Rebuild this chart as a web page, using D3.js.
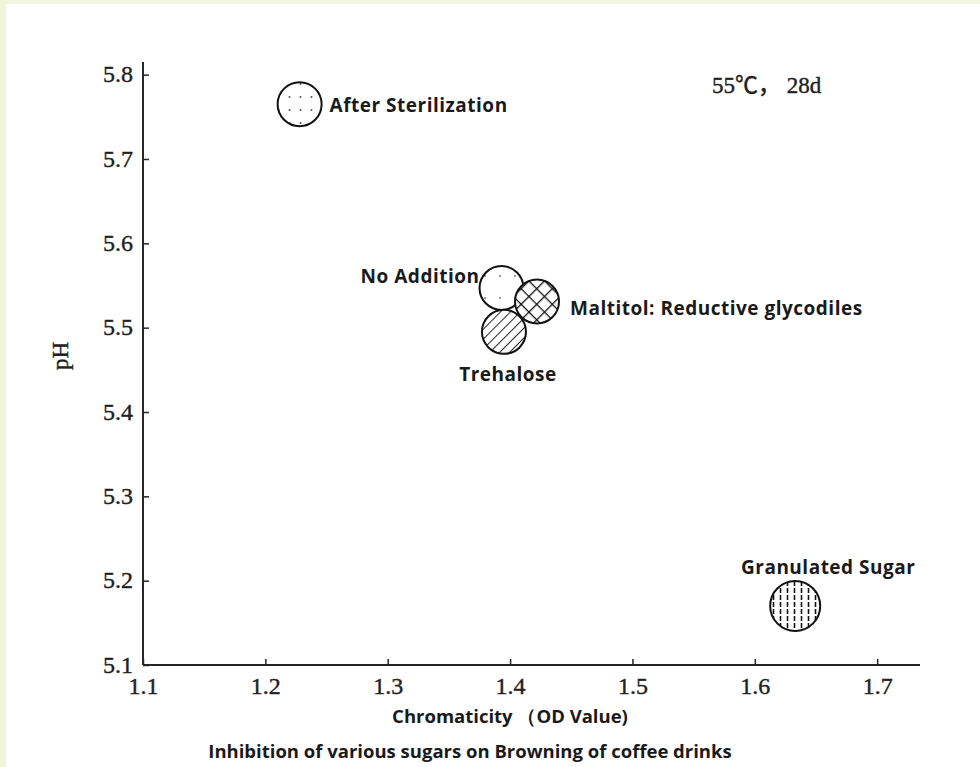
<!DOCTYPE html>
<html>
<head>
<meta charset="utf-8">
<script src="https://cdn.jsdelivr.net/npm/d3@7"></script>
<style>
  body { margin: 0; background: #f1f5da; }
  svg { display: block; }
</style>
</head>
<body>
<svg width="980" height="767"></svg>
<script>
// sample names and values
var samples = ["After Sterilization", "No Addition", "Maltitol: Reductive glycodiles", "Trehalose", "Granulated Sugar"];
var odValues = [1.228, 1.393, 1.422, 1.395, 1.633];
var phValues = [5.765, 5.547, 5.531, 5.495, 5.170];
var fills = ["dots", "fewdots", "cross", "diag", "vert"];
var xTicks = [1.1, 1.2, 1.3, 1.4, 1.5, 1.6, 1.7];
var yTicks = [5.1, 5.2, 5.3, 5.4, 5.5, 5.6, 5.7, 5.8];

// where each label sits next to its circle (dx, dy, anchor)
var labelPos = {
  "After Sterilization": [30, 8, "start"],
  "No Addition": [-22, -5, "end"],
  "Maltitol: Reductive glycodiles": [33, 13, "start"],
  "Trehalose": [4, 49, "middle"],
  "Granulated Sugar": [33, -32, "middle"]
};

var svg = d3.select("svg");
svg.append("rect").attr("x", 6).attr("y", 4).attr("width", 974).attr("height", 763).attr("fill", "#fff");

var defs = svg.append("defs");
// patterns for the circles
var p = defs.append("pattern").attr("id", "dots").attr("patternUnits", "userSpaceOnUse")
  .attr("width", 11).attr("height", 13).attr("x", 284).attr("y", 91);
p.append("circle").attr("cx", 5.5).attr("cy", 6).attr("r", 1).attr("fill", "#555");

p = defs.append("pattern").attr("id", "fewdots").attr("patternUnits", "userSpaceOnUse")
  .attr("width", 15).attr("height", 22).attr("x", 480).attr("y", 270);
p.append("circle").attr("cx", 5).attr("cy", 6).attr("r", 1).attr("fill", "#777");

p = defs.append("pattern").attr("id", "cross").attr("patternUnits", "userSpaceOnUse")
  .attr("width", 11).attr("height", 11).attr("patternTransform", "rotate(45)");
p.append("path").attr("d", "M0,0 L11,0 M0,0 L0,11").attr("stroke", "#111").attr("stroke-width", 2.6);

p = defs.append("pattern").attr("id", "diag").attr("patternUnits", "userSpaceOnUse")
  .attr("width", 7).attr("height", 7).attr("patternTransform", "rotate(-45)");
p.append("path").attr("d", "M0,0 L7,0").attr("stroke", "#111").attr("stroke-width", 1.8);

p = defs.append("pattern").attr("id", "vert").attr("patternUnits", "userSpaceOnUse")
  .attr("width", 7).attr("height", 7);
p.append("path").attr("d", "M3.5,0 L3.5,5").attr("stroke", "#111").attr("stroke-width", 1.6);

var x = d3.scaleLinear().domain([1.1, 1.735]).range([143, 920]);
var y = d3.scaleLinear().domain([5.1, 5.815]).range([665, 62]);

var axisColor = "#262626";
var serif = "'Liberation Serif', 'Noto Sans CJK SC', serif";
var sans = "'Open Sans', 'Liberation Sans', sans-serif";

// axes
var xAxis = svg.append("g").attr("transform", "translate(0,665)")
  .call(d3.axisBottom(x).tickValues(xTicks).tickSize(-6).tickFormat(d3.format(".1f")));
var yAxis = svg.append("g").attr("transform", "translate(143,0)")
  .call(d3.axisLeft(y).tickValues(yTicks).tickSize(-6).tickFormat(d3.format(".1f")));

[xAxis, yAxis].forEach(function(a){
  a.select(".domain").attr("stroke", axisColor).attr("stroke-width", 2);
  a.selectAll(".tick line").attr("stroke", axisColor).attr("stroke-width", 1.5);
  a.selectAll(".tick text").attr("fill", "#222")
    .attr("stroke", "#222").attr("stroke-width", 0.4)
    .style("font-family", serif)
    .style("font-size", "24px");
});
xAxis.selectAll(".tick text").attr("y", 29).attr("dy", 0);
yAxis.selectAll(".tick text").attr("x", -10).attr("dy", "0.3em");
xAxis.select(".domain").attr("d", "M143,0H920");
yAxis.select(".domain").attr("d", "M0,62V665");

// circles
var pts = samples.map(function(s, i){
  return {name: s, od: odValues[i], ph: phValues[i], fill: fills[i]};
});
// draw order so maltitol sits over no addition, trehalose under
var order = [0, 1, 3, 2, 4];
svg.append("g").selectAll("circle")
  .data(order.map(function(i){ return pts[i]; }))
  .enter().append("g")
  .each(function(d){
    var g = d3.select(this);
    var r = d.name == "Granulated Sugar" ? 25 : 22;
    g.append("circle").attr("cx", x(d.od)).attr("cy", y(d.ph)).attr("r", r).attr("fill", "#fff");
    g.append("circle").attr("cx", x(d.od)).attr("cy", y(d.ph)).attr("r", r)
      .attr("fill", "url(#" + d.fill + ")")
      .attr("stroke", "#111").attr("stroke-width", 2);
  });

svg.append("g").selectAll("text")
  .data(pts)
  .enter().append("text")
  .attr("x", function(d){ return x(d.od) + labelPos[d.name][0]; })
  .attr("y", function(d){ return y(d.ph) + labelPos[d.name][1]; })
  .attr("text-anchor", function(d){ return labelPos[d.name][2]; })
  .style("font-family", sans).style("font-weight", "700").style("font-size", "19px")
  .style("letter-spacing", "0.5px")
  .attr("fill", "#1a1a1a")
  .text(function(d){ return d.name; });

// condition note
svg.append("text").attr("x", 712).attr("y", 93)
  .style("font-family", serif).style("font-size", "23px")
  .attr("stroke", "#222").attr("stroke-width", 0.4)
  .attr("fill", "#222").text("55℃， 28d");

// axis titles
svg.append("text").attr("x", 510).attr("y", 723).attr("text-anchor", "middle")
  .style("font-family", sans).style("font-weight", "700").style("font-size", "18.5px")
  .attr("fill", "#1a1a1a").text("Chromaticity （OD Value)");
svg.append("text").attr("transform", "translate(68,356) rotate(-90)").attr("text-anchor", "middle")
  .style("font-family", serif).style("font-size", "23px")
  .attr("stroke", "#222").attr("stroke-width", 0.4)
  .attr("fill", "#222").text("pH");

svg.append("text").attr("x", 470).attr("y", 758).attr("text-anchor", "middle")
  .style("font-family", sans).style("font-weight", "700").style("font-size", "18.5px")
  .attr("fill", "#1a1a1a").text("Inhibition of various sugars on Browning of coffee drinks");
</script>
</body>
</html>
